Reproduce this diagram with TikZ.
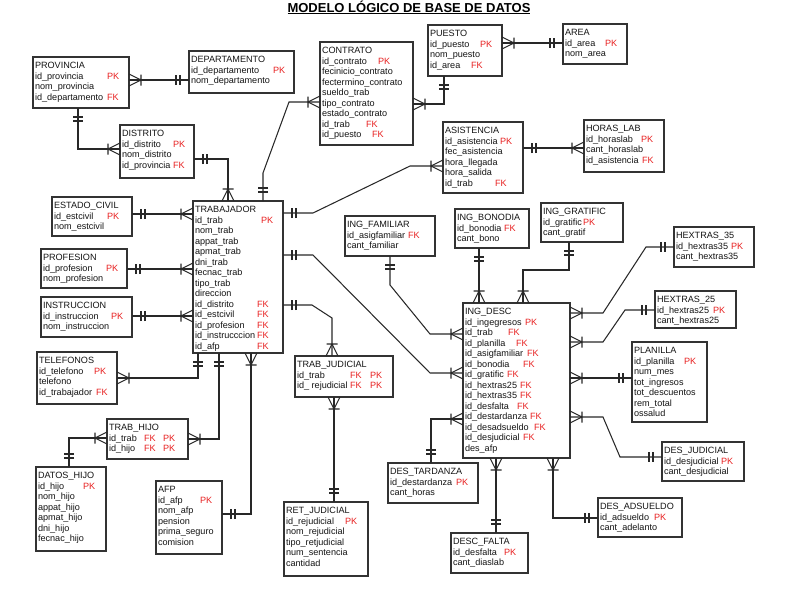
\documentclass[tikz,border=0pt]{standalone}
\usepackage{fontspec}
\setmainfont{Liberation Sans}
\definecolor{pkred}{RGB}{232,32,32}
\definecolor{lncol}{RGB}{40,40,40}
\newcommand\pk{\textcolor{pkred}{PK}}
\newcommand\fk{\textcolor{pkred}{FK}}
\newcommand\kr[3]{\makebox[#1pt][l]{#2}#3}
\newcommand\ent[6]{%
  \node[ebox,minimum width=#4pt,minimum height=#5pt] (#1) at (#2,#3) {};
  \node[etext] (#1-t) at ([xshift=2pt,yshift=-4.3pt]#1.north west) {\begin{tabular}{@{}l@{}}#6\end{tabular}};}
\pgfdeclarearrow{
  name = ermany,
  setup code = {
    \pgfarrowssettipend{0pt}
    \pgfarrowssetlineend{0pt}
    \pgfarrowssetbackend{-12pt}
  },
  drawing code = {
    \pgfsetdash{}{0pt}
    \pgfpathmoveto{\pgfqpoint{0pt}{6pt}}
    \pgfpathlineto{\pgfqpoint{-12pt}{0pt}}
    \pgfpathlineto{\pgfqpoint{0pt}{-6pt}}
    \pgfpathmoveto{\pgfqpoint{-12pt}{5.5pt}}
    \pgfpathlineto{\pgfqpoint{-12pt}{-5.5pt}}
    \pgfusepathqstroke
  }
}
\pgfdeclarearrow{
  name = erone,
  setup code = {
    \pgfarrowssettipend{0pt}
    \pgfarrowssetlineend{0pt}
    \pgfarrowssetbackend{-13pt}
  },
  drawing code = {
    \pgfsetdash{}{0pt}
    \pgfpathmoveto{\pgfqpoint{-9pt}{5pt}}
    \pgfpathlineto{\pgfqpoint{-9pt}{-5pt}}
    \pgfpathmoveto{\pgfqpoint{-13pt}{5pt}}
    \pgfpathlineto{\pgfqpoint{-13pt}{-5pt}}
    \pgfusepathqstroke
  }
}
\tikzset{
  ebox/.style={draw=black!80,line width=1.2pt,fill=white,anchor=north west,inner sep=0pt,outer sep=0pt},
  etext/.style={anchor=north west,inner sep=0pt,outer sep=0pt,font=\fontsize{9.1}{10.5}\selectfont,text=black!92},
  conn/.style={draw=lncol,line width=1.05pt},
}
\begin{document}
\begin{tikzpicture}[x=1pt,y=-1pt]
\useasboundingbox[fill=white] (0,0) rectangle (785,592);
\node[anchor=base,font=\bfseries\fontsize{13}{15}\selectfont] (title) at (409,12) {\underline{MODELO LÓGICO DE BASE DE DATOS}};

\ent{prov}{33}{57}{96}{51}{PROVINCIA\\ \kr{72}{id\_provincia}{\pk}\\ nom\_provincia\\ \kr{72}{id\_departamento}{\fk}}
\ent{dep}{189}{51}{105}{42}{DEPARTAMENTO\\ \kr{82}{id\_departamento}{\pk}\\ nom\_departamento}
\ent{dist}{120}{125}{74}{53}{DISTRITO\\ \kr{51}{id\_distrito}{\pk}\\ nom\_distrito\\ \kr{51}{id\_provincia}{\fk}}
\ent{contr}{320}{42}{93}{103}{CONTRATO\\ \kr{56}{id\_contrato}{\pk}\\ fecinicio\_contrato\\ fectermino\_contrato\\ sueldo\_trab\\ tipo\_contrato\\ estado\_contrato\\ \kr{44}{id\_trab}{\fk}\\ \kr{50}{id\_puesto}{\fk}}
\ent{puesto}{428}{25}{74}{51}{PUESTO\\ \kr{50}{id\_puesto}{\pk}\\ nom\_puesto\\ \kr{41}{id\_area}{\fk}}
\ent{area}{563}{24}{64}{40}{AREA\\ \kr{40}{id\_area}{\pk}\\ nom\_area}
\ent{asist}{443}{122}{80}{71}{ASISTENCIA\\ \kr{55}{id\_asistencia}{\pk}\\ fec\_asistencia\\ hora\_llegada\\ hora\_salida\\ \kr{50}{id\_trab}{\fk}}
\ent{horas}{584}{120}{80}{52}{HORAS\_LAB\\ \kr{55}{id\_horaslab}{\pk}\\ cant\_horaslab\\ \kr{56}{id\_asistencia}{\fk}}
\ent{estc}{52}{197}{80}{39}{ESTADO\_CIVIL\\ \kr{53}{id\_estcivil}{\pk}\\ nom\_estcivil}
\ent{prof}{41}{249}{86}{39}{PROFESION\\ \kr{63}{id\_profesion}{\pk}\\ nom\_profesion}
\ent{instr}{41}{297}{91}{40}{INSTRUCCION\\ \kr{68}{id\_instruccion}{\pk}\\ nom\_instruccion}
\ent{tel}{37}{352}{80}{52}{TELEFONOS\\ \kr{55}{id\_telefono}{\pk}\\ telefono\\ \kr{57}{id\_trabajador}{\fk}}
\ent{trab}{193}{201}{90}{152}{TRABAJADOR\\ \kr{66}{id\_trab}{\pk}\\ nom\_trab\\ appat\_trab\\ apmat\_trab\\ dni\_trab\\ fecnac\_trab\\ tipo\_trab\\ direccion\\ \kr{62}{id\_distrito}{\fk}\\ \kr{62}{id\_estcivil}{\fk}\\ \kr{62}{id\_profesion}{\fk}\\ \kr{62}{id\_instrucccion}{\fk}\\ \kr{62}{id\_afp}{\fk}}
\ent{tjud}{295}{356}{98}{41}{TRAB\_JUDICIAL\\ \kr{53}{id\_trab}{\kr{20}{\fk}{\pk}}\\ \kr{53}{id\_ rejudicial}{\kr{20}{\fk}{\pk}}}
\ent{rjud}{284}{502}{84}{74}{RET\_JUDICIAL\\ \kr{59}{id\_rejudicial}{\pk}\\ nom\_rejudicial\\ tipo\_retjudicial\\ num\_sentencia\\ cantidad}
\ent{thijo}{107}{419}{81}{40}{TRAB\_HIJO\\ \kr{35}{id\_trab}{\kr{19}{\fk}{\pk}}\\ \kr{35}{id\_hijo}{\kr{19}{\fk}{\pk}}}
\ent{dhijo}{36}{467}{70}{84}{DATOS\_HIJO\\ \kr{45}{id\_hijo}{\pk}\\ nom\_hijo\\ appat\_hijo\\ apmat\_hijo\\ dni\_hijo\\ fecnac\_hijo}
\ent{afp}{156}{481}{66}{73}{AFP\\ \kr{42}{id\_afp}{\pk}\\ nom\_afp\\ pension\\ prima\_seguro\\ comision}
\ent{ingfam}{345}{216}{90}{40}{ING\_FAMILIAR\\ \kr{61}{id\_asigfamiliar}{\fk}\\ cant\_familiar}
\ent{ingbono}{455}{209}{74}{39}{ING\_BONODIA\\ \kr{47}{id\_bonodia}{\fk}\\ cant\_bono}
\ent{inggrat}{541}{203}{82}{39}{ING\_GRATIFIC\\ \kr{40}{id\_gratific}{\pk}\\ cant\_gratif}
\ent{ingdesc}{463}{303}{107}{155}{ING\_DESC\\ \kr{60}{id\_ingegresos}{\pk}\\ \kr{43}{id\_trab}{\fk}\\ \kr{51}{id\_planilla}{\fk}\\ \kr{62}{id\_asigfamiliar}{\fk}\\ \kr{58}{id\_bonodia}{\fk}\\ \kr{42}{id\_gratific}{\fk}\\ \kr{55}{id\_hextras25}{\fk}\\ \kr{55}{id\_hextras35}{\fk}\\ \kr{52}{id\_desfalta}{\fk}\\ \kr{65}{id\_destardanza}{\fk}\\ \kr{69}{id\_desadsueldo}{\fk}\\ \kr{58}{id\_desjudicial}{\fk}\\ des\_afp}
\ent{hex35}{674}{227}{80}{40}{HEXTRAS\_35\\ \kr{55}{id\_hextras35}{\pk}\\ cant\_hextras35}
\ent{hex25}{655}{291}{81}{37}{HEXTRAS\_25\\ \kr{56}{id\_hextras25}{\pk}\\ cant\_hextras25}
\ent{plan}{632}{342}{75}{80}{PLANILLA\\ \kr{50}{id\_planilla}{\pk}\\ num\_mes\\ tot\_ingresos\\ tot\_descuentos\\ rem\_total\\ ossalud}
\ent{desjud}{662}{442}{82}{39}{DES\_JUDICIAL\\ \kr{57}{id\_desjudicial}{\pk}\\ cant\_desjudicial}
\ent{desads}{598}{498}{84}{39}{DES\_ADSUELDO\\ \kr{54}{id\_adsueldo}{\pk}\\ cant\_adelanto}
\ent{descfalta}{451}{533}{77}{40}{DESC\_FALTA\\ \kr{51}{id\_desfalta}{\pk}\\ cant\_diaslab}
\ent{destard}{388}{463}{90}{40}{DES\_TARDANZA\\ \kr{66}{id\_destardanza}{\pk}\\ cant\_horas}

\begin{scope}[every path/.style={conn}]
\draw[arrows={ermany-erone}] (prov.east |- 0,80) -- (dep.west |- 0,80);
\draw[arrows={erone-ermany}] (prov.south -| 78,0) |- (dist.west |- 0,149);
\draw[arrows={erone-ermany}] (dist.east |- 0,159) -| (trab.north -| 228,0);
\draw[arrows={erone-ermany}] (trab.north -| 263,0) -- (263,173) -- (289,102) -- (contr.west |- 0,102);
\draw[arrows={ermany-erone}] (contr.east |- 0,104) -| (puesto.south -| 444,0);
\draw[arrows={ermany-erone}] (puesto.east |- 0,43) -- (area.west |- 0,43);
\draw[arrows={erone-ermany}] (asist.east |- 0,148) -- (horas.west |- 0,148);
\draw[arrows={erone-ermany}] (trab.east |- 0,213) -- (313,213) -- (410,166) -- (asist.west |- 0,166);
\draw[arrows={erone-ermany}] (estc.east |- 0,214) -- (trab.west |- 0,214);
\draw[arrows={erone-ermany}] (prof.east |- 0,269) -- (trab.west |- 0,269);
\draw[arrows={erone-ermany}] (instr.east |- 0,316) -- (trab.west |- 0,316);
\draw[arrows={ermany-erone}] (tel.east |- 0,378) -| (trab.south -| 198,0);
\draw[arrows={ermany-erone}] (thijo.east |- 0,439) -| (trab.south -| 219,0);
\draw[arrows={erone-ermany}] (dhijo.north -| 69,0) |- (thijo.west |- 0,438);
\draw[arrows={erone-ermany}] (afp.east |- 0,514) -| (trab.south -| 251,0);
\draw[arrows={erone-ermany}] (trab.east |- 0,305) -- (312,305) -- (332,318) -- (tjud.north -| 332,0);
\draw[arrows={ermany-erone}] (tjud.south -| 334,0) -- (rjud.north -| 334,0);
\draw[arrows={erone-ermany}] (trab.east |- 0,255) -- (313,255) -- (430,373) -- (ingdesc.west |- 0,373);
\draw[arrows={erone-ermany}] (ingfam.south -| 390,0) -- (390,285) -- (430,334) -- (ingdesc.west |- 0,334);
\draw[arrows={erone-ermany}] (ingbono.south -| 479,0) -- (ingdesc.north -| 479,0);
\draw[arrows={erone-ermany}] (inggrat.south -| 569,0) |- (523,270) -- (ingdesc.north -| 523,0);
\draw[arrows={ermany-erone}] (ingdesc.east |- 0,313) -- (603,313) -- (646,247) -- (hex35.west |- 0,247);
\draw[arrows={ermany-erone}] (ingdesc.east |- 0,342) -- (603,342) -- (625,310) -- (hex25.west |- 0,310);
\draw[arrows={ermany-erone}] (ingdesc.east |- 0,378) -- (plan.west |- 0,378);
\draw[arrows={ermany-erone}] (ingdesc.east |- 0,417) -- (603,417) -- (620,457) -- (desjud.west |- 0,457);
\draw[arrows={ermany-erone}] (ingdesc.south -| 553,0) |- (desads.west |- 0,518);
\draw[arrows={ermany-erone}] (ingdesc.south -| 496,0) -- (descfalta.north -| 496,0);
\draw[arrows={erone-ermany}] (destard.north -| 431,0) |- (ingdesc.west |- 0,419);
\end{scope}
\end{tikzpicture}
\end{document}
